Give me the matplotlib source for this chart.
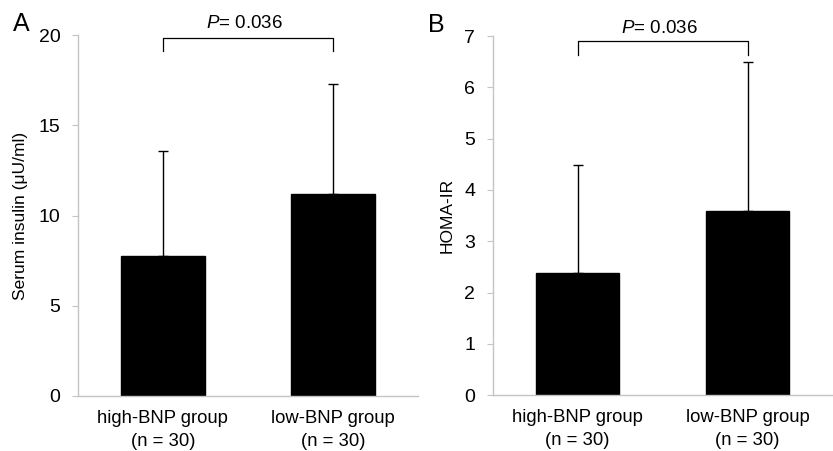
import numpy as np
import matplotlib.pyplot as plt

plt.rcParams['font.family'] = ['Liberation Sans', 'DejaVu Sans']
plt.rcParams['mathtext.fontset'] = 'custom'
plt.rcParams['mathtext.it'] = 'Liberation Sans:italic'
plt.rcParams['mathtext.rm'] = 'Liberation Sans'

groups = ['high-BNP group\n(n = 30)', 'low-BNP group\n(n = 30)']
insulin_mean = [7.77, 11.19]
insulin_sd = [5.82, 6.11]
homa_mean = [2.39, 3.59]
homa_sd = [2.09, 2.90]
p_text = '$P$= 0.036'

fig = plt.figure(figsize=(8.33, 4.51), dpi=100)
axA = fig.add_axes([0.0936, 0.122, 0.408, 0.800])
axB = fig.add_axes([0.5915, 0.124, 0.408, 0.796])

gray = '#c4c4c4'


def panel(ax, means, sds, ymax, step, ylabel, letter, bracket_top, bracket_bot, p_y, lab_x):
    x = np.arange(len(means))
    ax.bar(x, means, width=0.49, color='black', edgecolor='black', zorder=2)
    ax.errorbar(x, means, yerr=[np.zeros(len(sds)), sds], fmt='none',
                ecolor='black', elinewidth=1, capsize=3.5, capthick=1, zorder=3)
    ax.set_xlim(-0.5, 1.5)
    ax.set_ylim(0, ymax)
    ax.set_yticks(np.arange(0, ymax + 0.01, step))
    ax.set_xticks(x)
    ax.set_xticklabels(groups, fontsize=13.3, linespacing=1.45)
    ax.tick_params(axis='x', length=0, pad=10)
    ax.tick_params(axis='y', length=4.5, color=gray, labelsize=14, pad=8)
    for s in ['top', 'right']:
        ax.spines[s].set_visible(False)
    for s in ['left', 'bottom']:
        ax.spines[s].set_color(gray)
        ax.spines[s].set_linewidth(1)
    ax.set_ylabel(ylabel, fontsize=12.5)
    ax.yaxis.set_label_coords(lab_x, 0.5)
    ax.plot([0, 0, 1, 1], [bracket_bot, bracket_top, bracket_top, bracket_bot],
            color='black', lw=0.9, clip_on=False)
    ax.text(0.48, p_y, p_text, ha='center', va='center', fontsize=13.5,
            transform=ax.transData, clip_on=False)
    ax.text(-0.19, 1.03, letter, transform=ax.transAxes, fontsize=18,
            ha='left', va='center')


panel(axA, insulin_mean, insulin_sd, 20, 5, 'Serum insulin (μU/ml)', 'A', 19.85, 19.1, 20.65, -0.148)
panel(axB, homa_mean, homa_sd, 7, 1, 'HOMA-IR', 'B', 6.91, 6.64, 7.14, -0.112)

fig.savefig('out.png', dpi=100)
